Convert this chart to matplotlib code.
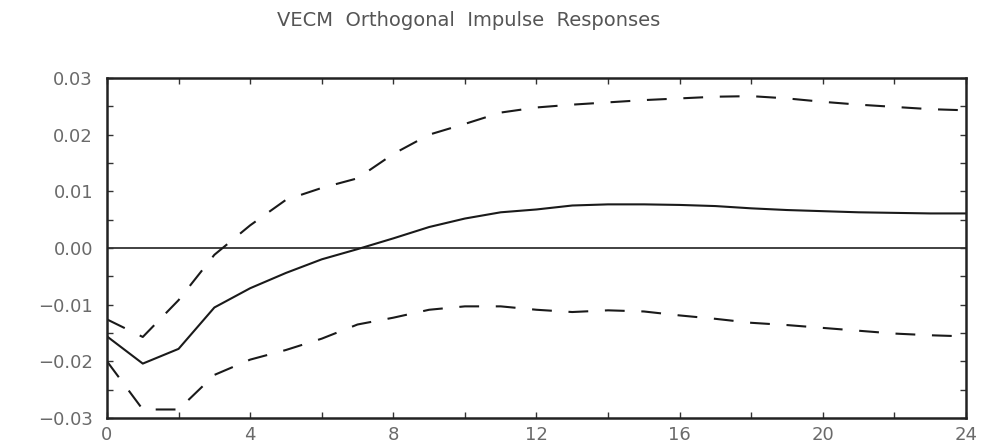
import matplotlib
matplotlib.use("Agg")
import matplotlib.pyplot as plt
from matplotlib.ticker import MultipleLocator, FixedLocator

# Impulse horizon and responses
horizon = list(range(25))
response = [-0.0156, -0.0204, -0.0178, -0.0105, -0.0071, -0.0044, -0.0020, -0.0002,
            0.0017, 0.0037, 0.0052, 0.0063, 0.0068, 0.0075, 0.0077, 0.0077,
            0.0076, 0.0074, 0.0070, 0.0067, 0.0065, 0.0063, 0.0062, 0.0061, 0.0061]
upper_band = [-0.0126, -0.0157, -0.0092, -0.0012, 0.0040, 0.0085, 0.0106, 0.0123,
              0.0166, 0.0200, 0.0219, 0.0239, 0.0248, 0.0253, 0.0257, 0.0261,
              0.0264, 0.0267, 0.0268, 0.0264, 0.0258, 0.0253, 0.0249, 0.0245, 0.0243]
lower_band = [-0.0200, -0.0285, -0.0285, -0.0224, -0.0197, -0.0180, -0.0160, -0.0135,
              -0.0123, -0.0109, -0.0103, -0.0103, -0.0109, -0.0113, -0.0110, -0.0112,
              -0.0119, -0.0125, -0.0132, -0.0136, -0.0141, -0.0146, -0.0151, -0.0154, -0.0156]

x_ticks = [0, 4, 8, 12, 16, 20, 24]
y_ticks = [-0.03, -0.02, -0.01, 0.00, 0.01, 0.02, 0.03]
y_labels = ["\u22120.03", "\u22120.02", "\u22120.01", "0.00", "0.01", "0.02", "0.03"]
title = "VECM  Orthogonal  Impulse  Responses"

label_color = "#6a6a6a"
line_color = "#1a1a1a"

fig = plt.figure(figsize=(9.87, 4.46), dpi=100)
ax = fig.add_axes([0.1084, 0.0628, 0.8703, 0.7623])

ax.axhline(0.0, color="#333333", lw=1.3, zorder=1)
ax.plot(horizon, response, color=line_color, lw=1.5, solid_joinstyle="round")
for band in (upper_band, lower_band):
    ln, = ax.plot(horizon, band, color=line_color, lw=1.5)
    ln.set_dashes((9.5, 8.0))

ax.set_xlim(0, 24)
ax.set_ylim(-0.03, 0.03)

ax.xaxis.set_major_locator(FixedLocator(x_ticks))
ax.xaxis.set_minor_locator(MultipleLocator(2))
ax.yaxis.set_major_locator(FixedLocator(y_ticks))
ax.yaxis.set_minor_locator(MultipleLocator(0.005))
ax.set_xticklabels([str(v) for v in x_ticks])
ax.set_yticklabels(y_labels)

ax.tick_params(which="both", direction="in", top=True, right=True,
               color="#333333", width=1.0)
ax.tick_params(which="major", length=4)
ax.tick_params(which="minor", length=4)
ax.tick_params(axis="y", which="major", pad=10, labelsize=13, labelcolor=label_color)
ax.tick_params(axis="x", which="major", pad=6, labelsize=13, labelcolor=label_color)

for sp in ax.spines.values():
    sp.set_linewidth(1.8)
    sp.set_color("#222222")

fig.text(0.475, 0.955, title, ha="center", va="center",
         fontsize=14, color="#555555")

fig.savefig("out.png", dpi=100)
